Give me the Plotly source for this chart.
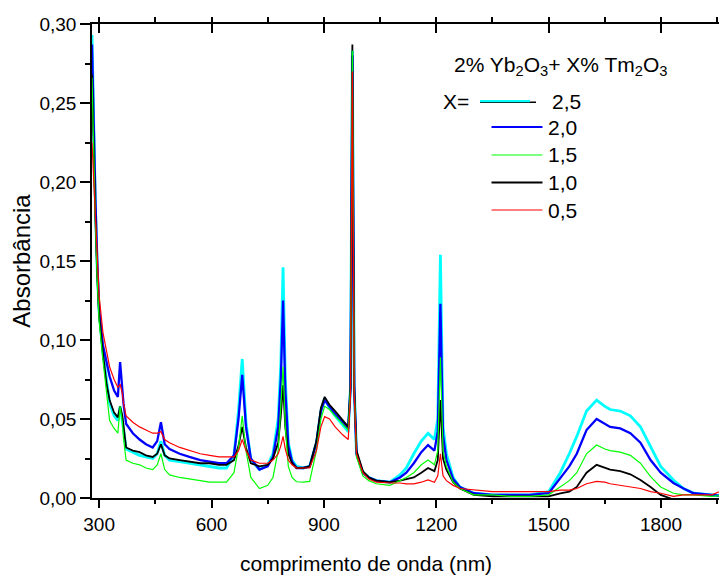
import plotly.graph_objects as go

# ---------------- data ----------------
wavelength = [281, 285, 290, 295, 300, 310, 320, 328, 340, 350, 356, 362, 365, 372, 390, 408,
              425, 443, 455, 465, 475, 488, 515, 541, 570, 595, 620, 640, 660, 672, 682, 692,
              705, 728, 750, 764, 778, 785, 791, 797, 805, 815, 827, 845, 862, 880, 892, 902,
              915, 930, 950, 965, 971, 976, 981, 987, 1004, 1020, 1040, 1076, 1103, 1120, 1140,
              1160, 1178, 1195, 1204, 1211, 1218, 1227, 1245, 1263, 1300, 1350, 1400, 1450,
              1500, 1531, 1555, 1575, 1601, 1628, 1650, 1664, 1691, 1718, 1745, 1772, 1799,
              1833, 1860, 1887, 1935, 1976]

abs_2_5 = [0.293, 0.24, 0.185, 0.145, 0.118, 0.092, 0.072, 0.060, 0.052, 0.049, 0.058, 0.050,
           0.044, 0.031, 0.029, 0.027, 0.026, 0.025, 0.028, 0.036, 0.027, 0.024, 0.023, 0.022,
           0.021, 0.020, 0.019, 0.019, 0.027, 0.055, 0.088, 0.048, 0.024, 0.018, 0.021, 0.028,
           0.050, 0.085, 0.146, 0.075, 0.035, 0.024, 0.020, 0.019, 0.020, 0.035, 0.055, 0.063,
           0.057, 0.052, 0.046, 0.042, 0.070, 0.283, 0.070, 0.028, 0.016, 0.013, 0.011, 0.010,
           0.0146, 0.019, 0.028, 0.036, 0.041, 0.037, 0.050, 0.154, 0.045, 0.028, 0.013, 0.007,
           0.003, 0.002, 0.002, 0.002, 0.004, 0.016, 0.028, 0.039, 0.055, 0.062, 0.058, 0.056,
           0.055, 0.052, 0.045, 0.0325, 0.020, 0.0114, 0.006, 0.003, 0.002, 0.001]

abs_2_0 = [0.287, 0.24, 0.19, 0.15, 0.120, 0.097, 0.085, 0.077, 0.068, 0.064, 0.086, 0.070,
           0.060, 0.047, 0.041, 0.037, 0.034, 0.032, 0.036, 0.048, 0.034, 0.031, 0.028, 0.026,
           0.024, 0.023, 0.022, 0.022, 0.027, 0.050, 0.078, 0.045, 0.025, 0.018, 0.020, 0.026,
           0.045, 0.075, 0.125, 0.068, 0.033, 0.023, 0.019, 0.019, 0.020, 0.035, 0.055, 0.062,
           0.058, 0.053, 0.048, 0.044, 0.070, 0.280, 0.070, 0.028, 0.016, 0.013, 0.011, 0.010,
           0.013, 0.016, 0.022, 0.029, 0.0335, 0.030, 0.042, 0.123, 0.040, 0.024, 0.012, 0.007,
           0.003, 0.002, 0.002, 0.002, 0.003, 0.013, 0.020, 0.028, 0.043, 0.050, 0.047, 0.045,
           0.044, 0.041, 0.035, 0.024, 0.016, 0.0095, 0.006, 0.003, 0.002, 0.001]

abs_1_5 = [0.266, 0.22, 0.175, 0.138, 0.112, 0.088, 0.065, 0.049, 0.044, 0.041, 0.058, 0.048,
           0.038, 0.024, 0.022, 0.021, 0.019, 0.018, 0.021, 0.028, 0.018, 0.0146, 0.013, 0.012,
           0.011, 0.010, 0.010, 0.010, 0.016, 0.032, 0.052, 0.030, 0.013, 0.006, 0.008, 0.013,
           0.030, 0.055, 0.083, 0.045, 0.020, 0.013, 0.0103, 0.010, 0.0105, 0.030, 0.050, 0.058,
           0.056, 0.052, 0.047, 0.043, 0.070, 0.283, 0.070, 0.026, 0.014, 0.011, 0.009, 0.008,
           0.011, 0.013, 0.016, 0.021, 0.024, 0.021, 0.030, 0.089, 0.030, 0.020, 0.010, 0.006,
           0.002, 0.002, 0.001, 0.001, 0.002, 0.007, 0.011, 0.016, 0.028, 0.0335, 0.031, 0.030,
           0.029, 0.027, 0.022, 0.0135, 0.007, 0.003, 0.002, 0.002, 0.001, 0.002]

abs_1_0 = [0.268, 0.225, 0.178, 0.140, 0.115, 0.092, 0.072, 0.062, 0.054, 0.051, 0.058, 0.052,
           0.045, 0.032, 0.030, 0.029, 0.027, 0.026, 0.028, 0.034, 0.027, 0.025, 0.024, 0.023,
           0.022, 0.022, 0.021, 0.021, 0.024, 0.033, 0.045, 0.032, 0.022, 0.020, 0.021, 0.025,
           0.035, 0.052, 0.0715, 0.045, 0.028, 0.022, 0.019, 0.019, 0.020, 0.036, 0.057, 0.064,
           0.059, 0.055, 0.049, 0.045, 0.070, 0.287, 0.070, 0.030, 0.017, 0.013, 0.011, 0.010,
           0.011, 0.012, 0.013, 0.016, 0.019, 0.017, 0.024, 0.062, 0.025, 0.018, 0.010, 0.006,
           0.002, 0.001, 0.001, 0.001, 0.001, 0.003, 0.004, 0.007, 0.016, 0.021, 0.019, 0.018,
           0.017, 0.015, 0.0114, 0.007, 0.002, -0.001, -0.002, -0.002, -0.002, -0.002]

abs_0_5 = [0.225, 0.205, 0.175, 0.148, 0.128, 0.105, 0.092, 0.083, 0.075, 0.070, 0.072, 0.066,
           0.060, 0.052, 0.048, 0.045, 0.043, 0.041, 0.041, 0.042, 0.037, 0.035, 0.032, 0.030,
           0.028, 0.027, 0.026, 0.026, 0.026, 0.030, 0.037, 0.030, 0.024, 0.022, 0.022, 0.024,
           0.028, 0.033, 0.039, 0.031, 0.024, 0.021, 0.019, 0.019, 0.019, 0.030, 0.045, 0.0515,
           0.050, 0.045, 0.040, 0.037, 0.065, 0.270, 0.065, 0.028, 0.016, 0.012, 0.010, 0.0095,
           0.0095, 0.009, 0.009, 0.010, 0.0115, 0.010, 0.014, 0.028, 0.014, 0.011, 0.008, 0.006,
           0.005, 0.004, 0.004, 0.004, 0.004, 0.005, 0.005, 0.006, 0.009, 0.0105, 0.010, 0.009,
           0.008, 0.007, 0.006, 0.004, 0.003, 0.001, 0.002, 0.002, 0.002, 0.006]

series_labels = ["2,5", "2,0", "1,5", "1,0", "0,5"]

x_ticks = [300, 600, 900, 1200, 1500, 1800]
y_ticks = [0.00, 0.05, 0.10, 0.15, 0.20, 0.25, 0.30]

# ---------------- styling ----------------
FONT = "Liberation Sans, Arial, sans-serif"
# the page body has an 8 px default margin, so the figure is placed 8 px in
OFF = 8
W, H = 727 - OFF, 576 - OFF
L, R, T, B = 92 - OFF, 0, 24 - OFF, 78

series = [
    (abs_2_5, "#00FFFF", 2.8),
    (abs_2_0, "#0000FF", 2.3),
    (abs_1_0, "#000000", 1.8),
    (abs_1_5, "#00FF00", 1.2),
    (abs_0_5, "#FF0000", 1.2),
]

fig = go.Figure()
for vals, col, lw in series:
    fig.add_trace(go.Scatter(x=wavelength, y=vals, mode="lines",
                             line=dict(color=col, width=lw), showlegend=False,
                             hoverinfo="skip"))

# invisible trace on secondary axes so top/right ticks render
fig.add_trace(go.Scatter(x=[wavelength[0]], y=[abs_2_5[0]], xaxis="x2", yaxis="y2",
                         mode="markers", marker=dict(opacity=0), showlegend=False,
                         hoverinfo="skip"))

xr = [281, 1976]
yr = [0, 0.30]

fig.update_layout(
    width=W, height=H,
    margin=dict(l=L, r=R, t=T, b=B, autoexpand=False),
    paper_bgcolor="white", plot_bgcolor="white",
    separators=",.",
    font=dict(family=FONT, color="black"),
    xaxis=dict(range=xr, tickmode="array", tickvals=x_ticks, automargin=False,
               ticks="outside", ticklen=8, tickwidth=1.5, tickcolor="black",
               minor=dict(dtick=150, tick0=300, ticks="outside", ticklen=4,
                          tickwidth=1.5, tickcolor="black"),
               showline=True, linecolor="black", linewidth=1.5,
               showgrid=False, zeroline=False,
               tickfont=dict(size=19)),
    yaxis=dict(range=yr, tickmode="array", tickvals=y_ticks, tickformat=".2f",
               automargin=False,
               ticks="outside", ticklen=10, tickwidth=1.5, tickcolor="black",
               minor=dict(dtick=0.025, tick0=0, ticks="outside", ticklen=5,
                          tickwidth=1.5, tickcolor="black"),
               showline=True, linecolor="black", linewidth=1.5,
               showgrid=False, zeroline=False,
               tickfont=dict(size=19),
               title=dict(text="Absorbância", font=dict(size=24), standoff=6)),
    xaxis2=dict(range=xr, overlaying="x", side="top", anchor="y", automargin=False,
                tickmode="array", tickvals=x_ticks, showticklabels=False,
                ticks="inside", ticklen=9, tickwidth=1.5, tickcolor="black",
                minor=dict(dtick=150, tick0=300, ticks="outside", ticklen=5,
                           tickwidth=1.5, tickcolor="black"),
                showline=True, linecolor="black", linewidth=1.5,
                showgrid=False, zeroline=False),
    yaxis2=dict(range=yr, overlaying="y", side="right", anchor="x", automargin=False,
                tickmode="array", tickvals=y_ticks, showticklabels=False,
                ticks="inside", ticklen=3, tickwidth=1.5, tickcolor="black",
                showline=False, showgrid=False, zeroline=False),
)

# ---------------- helpers: screen pixel -> paper coords ----------------
pw = W - L - R
ph = H - T - B


def px_x(sx):
    return (sx - OFF - L) / pw


def px_y(sy):
    return (H - B - (sy - OFF)) / ph


# x axis title (placed where the reference shows it)
fig.add_annotation(x=px_x(366), y=px_y(563), xref="paper", yref="paper",
                   text="comprimento de onda (nm)", showarrow=False,
                   xanchor="center", yanchor="middle", font=dict(size=21))

# ---------------- custom legend (Origin style) ----------------
LEG = 21
fig.add_annotation(x=px_x(560.5), y=px_y(66), xref="paper", yref="paper",
                   text="2% Yb<sub>2</sub>O<sub>3</sub>+ X% Tm<sub>2</sub>O<sub>3</sub>",
                   showarrow=False, xanchor="center", yanchor="middle",
                   font=dict(size=LEG))
fig.add_annotation(x=px_x(441), y=px_y(101.5), xref="paper", yref="paper",
                   text="X=", showarrow=False, xanchor="left", yanchor="middle",
                   font=dict(size=LEG))

rows_y = [101.5, 127, 155, 182.5, 210]
leg_colors = ["#00FFFF", "#0000FF", "#00FF00", "#000000", "#FF0000"]
leg_widths = [2.2, 2.0, 1.2, 1.8, 1.2]
for i, (lab, col, lw, ry) in enumerate(zip(series_labels, leg_colors, leg_widths, rows_y)):
    if i == 0:
        fig.add_shape(type="line", xref="paper", yref="paper",
                      x0=px_x(480), x1=px_x(536), y0=px_y(ry + 0.8), y1=px_y(ry + 0.8),
                      line=dict(color="black", width=1.5))
        fig.add_shape(type="line", xref="paper", yref="paper",
                      x0=px_x(480), x1=px_x(530), y0=px_y(ry - 0.4), y1=px_y(ry - 0.4),
                      line=dict(color=col, width=lw))
        lx = 550
    else:
        fig.add_shape(type="line", xref="paper", yref="paper",
                      x0=px_x(491.5), x1=px_x(542.5), y0=px_y(ry), y1=px_y(ry),
                      line=dict(color=col, width=lw))
        lx = 546
    fig.add_annotation(x=px_x(lx), y=px_y(ry), xref="paper", yref="paper",
                       text=lab, showarrow=False, xanchor="left", yanchor="middle",
                       font=dict(size=LEG))

fig.write_html("out.html")
